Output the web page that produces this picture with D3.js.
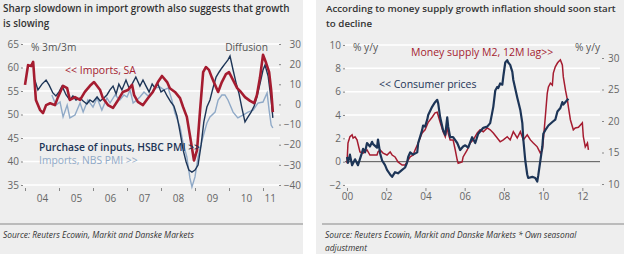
<!DOCTYPE html>
<html><head><meta charset="utf-8">
<script src="https://cdn.jsdelivr.net/npm/d3@7"></script>
<style>
html,body{margin:0;padding:0;background:#fff;}
svg{display:block;font-family:"Open Sans",Lato,sans-serif;}
</style></head>
<body><svg id="c" width="624" height="254"></svg>
<script>
// ---------- LEFT CHART DATA ----------
const leftTitle = ["Sharp slowdown in import growth also suggests that growth", "is slowing"];
const leftYTicks = [35, 40, 45, 50, 55, 60, 65];
const leftY2Ticks = [-40, -30, -20, -10, 0, 10, 20, 30];
const leftYearTicks = [2004, 2005, 2006, 2007, 2008, 2009, 2010, 2011];
const leftYearLabelPos = [2004.5, 2005.5, 2006.5, 2007.5, 2008.5, 2009.5, 2010.5, 2011.2];
const leftYearLabels = ["04", "05", "06", "07", "08", "09", "10", "11"];
// Imports, SA (% 3m/3m, left axis)
const importsSA = [[2004.00,56.3],[2004.09,60.5],[2004.18,60.3],[2004.24,61.2],[2004.32,53.1],[2004.44,51.0],[2004.53,50.3],[2004.62,52.0],[2004.74,52.4],[2004.88,52.0],[2004.97,53.7],[2005.12,56.1],[2005.24,55.6],[2005.32,53.1],[2005.47,53.7],[2005.62,53.1],[2005.76,54.8],[2005.91,56.1],[2006.03,56.9],[2006.21,55.2],[2006.29,53.5],[2006.44,52.0],[2006.59,51.4],[2006.74,53.1],[2006.88,54.8],[2007.03,55.2],[2007.15,56.3],[2007.21,54.1],[2007.32,52.7],[2007.47,52.0],[2007.62,53.5],[2007.76,54.8],[2007.91,56.9],[2008.03,58.2],[2008.18,56.9],[2008.26,55.6],[2008.41,54.8],[2008.56,53.5],[2008.65,51.6],[2008.76,49.5],[2008.85,45.6],[2008.97,40.2],[2009.06,42.4],[2009.15,51.0],[2009.24,59.0],[2009.32,60.1],[2009.41,59.5],[2009.50,57.8],[2009.59,56.3],[2009.68,54.8],[2009.79,56.9],[2009.91,58.6],[2010.00,59.0],[2010.12,57.3],[2010.24,55.6],[2010.35,54.8],[2010.47,53.7],[2010.62,52.9],[2010.74,52.4],[2010.82,54.1],[2010.91,57.8],[2011.00,62.7],[2011.09,61.0],[2011.18,59.0],[2011.24,55.2],[2011.29,50.5]];
// Purchase of inputs, HSBC PMI (diffusion, right axis)
const hsbcInputs = [[2004.29,12.1],[2004.38,7.2],[2004.50,10.1],[2004.62,12.1],[2004.71,9.6],[2004.82,5.7],[2004.91,4.2],[2005.00,6.2],[2005.09,9.1],[2005.21,4.7],[2005.32,2.2],[2005.41,4.2],[2005.50,2.2],[2005.62,3.2],[2005.71,1.7],[2005.82,0.2],[2005.91,2.2],[2006.00,1.2],[2006.12,3.7],[2006.21,1.7],[2006.32,3.2],[2006.41,4.7],[2006.50,7.2],[2006.59,9.1],[2006.68,5.2],[2006.76,10.1],[2006.85,7.2],[2006.97,12.1],[2007.06,8.2],[2007.15,10.1],[2007.26,13.6],[2007.38,9.1],[2007.47,12.1],[2007.56,9.1],[2007.65,6.2],[2007.74,10.1],[2007.82,8.2],[2007.91,10.1],[2008.00,6.2],[2008.09,7.2],[2008.18,4.2],[2008.29,1.2],[2008.38,-0.8],[2008.47,-5.7],[2008.56,-13.7],[2008.65,-22.6],[2008.74,-28.6],[2008.82,-32.6],[2008.91,-33.6],[2009.00,-32.6],[2009.09,-30.1],[2009.18,-20.1],[2009.26,-8.7],[2009.35,-1.3],[2009.44,2.2],[2009.53,8.2],[2009.62,13.6],[2009.71,16.1],[2009.79,18.1],[2009.88,20.1],[2009.97,22.1],[2010.03,24.0],[2010.12,17.1],[2010.21,10.6],[2010.29,5.7],[2010.38,-1.8],[2010.47,-8.7],[2010.56,-6.2],[2010.65,-3.8],[2010.74,-0.8],[2010.82,3.7],[2010.91,10.1],[2011.00,17.1],[2011.06,19.6],[2011.15,14.1],[2011.24,2.2],[2011.29,-6.7]];
// Imports, NBS PMI (diffusion, right axis)
const nbsImports = [[2004.79,4.7],[2004.91,-0.3],[2005.03,1.2],[2005.12,-6.2],[2005.24,-0.3],[2005.32,-6.7],[2005.47,-5.3],[2005.62,0.7],[2005.71,-3.8],[2005.85,2.2],[2006.00,-1.3],[2006.12,3.2],[2006.26,-2.8],[2006.41,3.2],[2006.50,0.7],[2006.65,4.7],[2006.79,2.2],[2006.91,4.7],[2007.00,3.7],[2007.09,7.2],[2007.18,0.7],[2007.29,2.2],[2007.38,3.7],[2007.50,6.2],[2007.62,4.2],[2007.74,6.2],[2007.85,8.2],[2007.97,8.6],[2008.09,7.2],[2008.21,8.2],[2008.32,2.2],[2008.41,-4.3],[2008.56,-11.2],[2008.65,-19.2],[2008.76,-26.1],[2008.85,-36.5],[2008.91,-41.0],[2009.00,-36.0],[2009.09,-26.1],[2009.21,-17.7],[2009.35,-9.2],[2009.44,-6.2],[2009.59,-3.8],[2009.68,2.2],[2009.79,4.7],[2009.88,4.7],[2009.97,2.2],[2010.12,-3.8],[2010.26,-6.7],[2010.41,-5.3],[2010.56,-3.8],[2010.71,-2.8],[2010.85,0.7],[2011.00,1.2],[2011.12,5.7],[2011.18,-2.8],[2011.24,-10.2],[2011.29,-11.7]];

// ---------- RIGHT CHART DATA ----------
const rightTitle = ["According to money supply growth inflation should soon start", "to decline"];
const rightYTicks = [-2, 0, 2, 4, 6, 8, 10];
const rightY2Ticks = [10, 15, 20, 25, 30];
const rightYearTicks = [2000, 2002, 2004, 2006, 2008, 2010, 2012];
const rightYearLabels = ["00", "02", "04", "06", "08", "10", "12"];
// Consumer prices (% y/y, left axis)
const consumerPrices = [[2000.00,0.4],[2000.05,-0.1],[2000.15,0.6],[2000.26,-0.3],[2000.41,0.2],[2000.56,-0.3],[2000.77,0.8],[2000.82,1.1],[2000.92,0.8],[2001.02,1.6],[2001.17,1.3],[2001.28,1.7],[2001.33,1.5],[2001.53,1.2],[2001.58,1.9],[2001.69,0.7],[2001.79,0.1],[2001.94,-0.3],[2002.04,-0.7],[2002.20,-1.1],[2002.30,-1.3],[2002.45,-0.9],[2002.60,-1.0],[2002.81,-0.7],[2002.96,-0.5],[2003.06,-0.1],[2003.12,0.4],[2003.22,0.8],[2003.37,0.6],[2003.58,0.8],[2003.63,1.6],[2003.83,2.7],[2003.88,3.1],[2003.98,3.0],[2004.09,3.6],[2004.14,4.0],[2004.34,4.7],[2004.49,5.1],[2004.60,5.3],[2004.65,5.0],[2004.75,3.8],[2004.90,2.7],[2005.01,2.3],[2005.11,3.8],[2005.16,3.0],[2005.26,2.1],[2005.41,2.1],[2005.62,1.6],[2005.77,1.0],[2005.92,1.3],[2006.03,1.4],[2006.18,1.2],[2006.38,2.1],[2006.54,1.6],[2006.69,2.4],[2006.95,2.9],[2007.15,3.0],[2007.30,3.3],[2007.46,4.7],[2007.56,6.1],[2007.66,6.4],[2007.71,6.3],[2007.81,6.7],[2007.92,6.6],[2007.97,7.3],[2008.07,8.5],[2008.17,8.7],[2008.22,8.5],[2008.32,8.3],[2008.43,7.7],[2008.48,7.0],[2008.68,5.5],[2008.84,4.4],[2008.94,3.3],[2008.99,1.9],[2009.09,0.1],[2009.19,-1.1],[2009.24,-1.4],[2009.45,-1.3],[2009.60,-1.4],[2009.70,-1.7],[2009.75,-1.2],[2009.86,0.1],[2009.96,1.3],[2010.01,2.4],[2010.11,2.7],[2010.27,3.1],[2010.47,3.4],[2010.62,3.6],[2010.73,4.3],[2010.88,4.6],[2010.98,5.1],[2011.03,4.9],[2011.24,5.3],[2011.29,5.4]];
// Money supply M2, 12M lag (% y/y, right axis)
const moneySupplyM2 = [[2000.00,13.3],[2000.05,16.5],[2000.15,17.5],[2000.26,17.8],[2000.31,17.3],[2000.41,17.5],[2000.51,17.0],[2000.66,15.1],[2000.82,14.9],[2001.02,15.4],[2001.17,14.6],[2001.33,14.6],[2001.53,14.6],[2001.58,15.1],[2001.69,15.4],[2001.84,14.9],[2002.04,14.6],[2002.20,15.1],[2002.30,14.6],[2002.45,14.3],[2002.60,13.5],[2002.81,13.0],[2002.96,13.0],[2003.06,13.5],[2003.22,14.3],[2003.37,14.6],[2003.47,15.4],[2003.63,16.5],[2003.83,18.1],[2003.98,18.6],[2004.14,19.8],[2004.34,20.6],[2004.49,21.3],[2004.60,21.4],[2004.75,19.8],[2004.90,18.3],[2005.01,17.5],[2005.11,19.0],[2005.16,18.1],[2005.26,17.0],[2005.41,17.0],[2005.52,15.4],[2005.62,13.8],[2005.67,13.3],[2005.87,13.5],[2005.92,14.3],[2006.13,15.4],[2006.28,16.5],[2006.44,17.0],[2006.64,18.1],[2006.79,18.6],[2006.95,18.3],[2007.15,18.9],[2007.30,18.6],[2007.46,18.1],[2007.66,17.3],[2007.81,16.7],[2007.97,17.0],[2008.17,17.5],[2008.32,17.0],[2008.48,18.3],[2008.68,17.3],[2008.84,18.3],[2008.99,17.0],[2009.19,17.8],[2009.35,17.0],[2009.50,16.5],[2009.70,15.9],[2009.86,14.9],[2009.96,15.4],[2010.01,17.0],[2010.11,20.6],[2010.21,24.4],[2010.27,25.4],[2010.37,26.0],[2010.47,25.7],[2010.52,27.6],[2010.62,28.6],[2010.73,29.2],[2010.78,29.4],[2010.88,29.7],[2010.98,28.9],[2011.03,27.0],[2011.14,24.9],[2011.24,23.3],[2011.29,22.2],[2011.39,20.2],[2011.54,18.6],[2011.64,18.9],[2011.80,19.0],[2012.00,19.7],[2012.05,17.5],[2012.15,15.9],[2012.26,16.5],[2012.31,15.4]];

// ---------- DRAWING ----------
const svg = d3.select("#c");
const BG = "#eeeeee", GRID = "#ffffff", AX = "#666", TXT = "#333";
const RED = "#a51c30", NAVY = "#1d3557", LBLUE = "#8fa9c7";

function panel(x0, x1) {
  svg.append("rect").attr("x", x0).attr("y", 0).attr("width", x1 - x0).attr("height", 254).attr("fill", BG);
}
panel(0, 303);
panel(316, 624);

function title(lines, x, targetWidth) {
  const nodes = lines.map((t, i) => svg.append("text").attr("x", x).attr("y", 12 + i * 15)
    .attr("font-size", 10).attr("font-weight", 600).attr("fill", TXT).text(t));
  const w = nodes[0].node().getComputedTextLength();
  const fs = 10 * targetWidth / w;
  nodes.forEach(n => n.attr("font-size", fs));
}
function source(lines, x) {
  lines.forEach((t, i) => svg.append("text").attr("x", x).attr("y", 238 + i * 13)
    .attr("font-size", 8.4).attr("font-style", "italic").attr("fill", TXT).text(t));
}

function styleAxis(g) {
  g.select(".domain").remove();
  g.selectAll(".tick line").attr("stroke", "#888");
  g.selectAll(".tick text").attr("fill", AX).attr("font-size", 10).attr("font-family", '"Open Sans",Lato,sans-serif');
}

// ===== Left chart =====
{
  const x = d3.scaleLinear().domain([2004, 2011.5]).range([25, 280]);
  const y = d3.scaleLinear().domain([35, 65]).range([185, 44]);
  const y2 = d3.scaleLinear().domain([-40, 30]).range([185, 44]);
  title(leftTitle, 3, 287);

  svg.append("g").selectAll("line").data(leftYTicks).join("line")
    .attr("x1", 22).attr("x2", 280).attr("y1", d => y(d)).attr("y2", d => y(d))
    .attr("stroke", GRID).attr("stroke-width", 1.5);

  svg.append("g").attr("transform", "translate(23,0)")
    .call(d3.axisLeft(y).tickValues(leftYTicks).tickSize(2).tickPadding(2)).call(styleAxis);
  svg.append("g").attr("transform", "translate(279,0)")
    .call(d3.axisRight(y2).tickValues(leftY2Ticks).tickSize(2).tickPadding(6)).call(styleAxis)
    .selectAll(".tick text").attr("text-anchor", "end").attr("dx", 14);
  svg.append("g").attr("transform", "translate(0,188)")
    .call(d3.axisBottom(x).tickValues(leftYearTicks).tickSize(3).tickFormat("")).call(styleAxis);
  svg.append("g").attr("transform", "translate(0,192)")
    .call(d3.axisBottom(x).tickValues(leftYearLabelPos).tickSize(0).tickPadding(3)
      .tickFormat((d, i) => leftYearLabels[i])).call(styleAxis);

  const lineL = d3.line().x(d => x(d[0])).y(d => y(d[1]));
  const lineR = d3.line().x(d => x(d[0])).y(d => y2(d[1]));
  svg.append("path").datum(nbsImports).attr("d", lineR).attr("fill", "none").attr("stroke", LBLUE).attr("stroke-width", 1.4);
  svg.append("path").datum(hsbcInputs).attr("d", lineR).attr("fill", "none").attr("stroke", NAVY).attr("stroke-width", 1.4);
  svg.append("path").datum(importsSA).attr("d", lineL).attr("fill", "none").attr("stroke", RED).attr("stroke-width", 2.6).attr("stroke-linejoin", "round");

  svg.append("text").attr("x", 31).attr("y", 51).attr("font-size", 10.2).attr("fill", "#555").text("% 3m/3m");
  svg.append("text").attr("x", 268).attr("y", 51).attr("text-anchor", "end").attr("font-size", 10.2).attr("fill", "#555").text("Diffusion");
  svg.append("text").attr("x", 65).attr("y", 74).attr("font-size", 10.5).attr("fill", RED).text("<< Imports, SA");
  svg.append("text").attr("x", 39).attr("y", 151).attr("font-size", 10.3).attr("font-weight", 600).attr("fill", NAVY).text("Purchase of inputs, HSBC PMI >>");
  svg.append("text").attr("x", 39).attr("y", 164).attr("font-size", 10.3).attr("fill", LBLUE).text("Imports, NBS PMI >>");

  svg.append("line").attr("x1", 0).attr("x2", 303).attr("y1", 224).attr("y2", 224).attr("stroke", "#bbb").attr("stroke-width", 2);
  source(["Source: Reuters Ecowin, Markit and Danske Markets"], 3);
}

// ===== Right chart =====
{
  const x = d3.scaleLinear().domain([2000, 2012.9]).range([347, 600]);
  const y = d3.scaleLinear().domain([-2, 10]).range([185, 45]);
  const y2 = d3.scaleLinear().domain([10, 30]).range([184, 58]);
  title(rightTitle, 326, 290);

  svg.append("g").selectAll("line").data(rightYTicks.filter(d => d !== 0)).join("line")
    .attr("x1", 345).attr("x2", 600).attr("y1", d => y(d)).attr("y2", d => y(d))
    .attr("stroke", GRID).attr("stroke-width", 1.5);
  svg.append("line").attr("x1", 345).attr("x2", 600).attr("y1", y(0)).attr("y2", y(0))
    .attr("stroke", "#555").attr("stroke-width", 1);

  svg.append("g").attr("transform", "translate(345,0)")
    .call(d3.axisLeft(y).tickValues(rightYTicks).tickSize(2).tickPadding(2)).call(styleAxis);
  svg.append("g").attr("transform", "translate(602,0)")
    .call(d3.axisRight(y2).tickValues(rightY2Ticks).tickSize(2).tickPadding(4)).call(styleAxis);
  svg.append("g").attr("transform", "translate(0,188)")
    .call(d3.axisBottom(x).tickValues(rightYearTicks).tickSize(3).tickPadding(2)
      .tickFormat((d, i) => rightYearLabels[i])).call(styleAxis);

  const lineL = d3.line().x(d => x(d[0])).y(d => y(d[1]));
  const lineR = d3.line().x(d => x(d[0])).y(d => y2(d[1]));
  svg.append("path").datum(moneySupplyM2).attr("d", lineR).attr("fill", "none").attr("stroke", RED).attr("stroke-width", 1.5);
  svg.append("path").datum(consumerPrices).attr("d", lineL).attr("fill", "none").attr("stroke", NAVY).attr("stroke-width", 2.2).attr("stroke-linejoin", "round");

  svg.append("text").attr("x", 353).attr("y", 51).attr("font-size", 10.2).attr("fill", "#555").text("% y/y");
  svg.append("text").attr("x", 600).attr("y", 51).attr("text-anchor", "end").attr("font-size", 10.2).attr("fill", "#555").text("% y/y");
  svg.append("text").attr("x", 411).attr("y", 56).attr("font-size", 10.5).attr("fill", RED).text("Money supply M2, 12M lag>>");
  svg.append("text").attr("x", 379).attr("y", 88).attr("font-size", 10.5).attr("fill", NAVY).text("<< Consumer prices");

  svg.append("line").attr("x1", 322).attr("x2", 624).attr("y1", 224).attr("y2", 224).attr("stroke", "#bbb").attr("stroke-width", 2);
  source(["Source: Reuters Ecowin, Markit and Danske Markets * Own seasonal", "adjustment"], 325);
}
</script></body></html>
